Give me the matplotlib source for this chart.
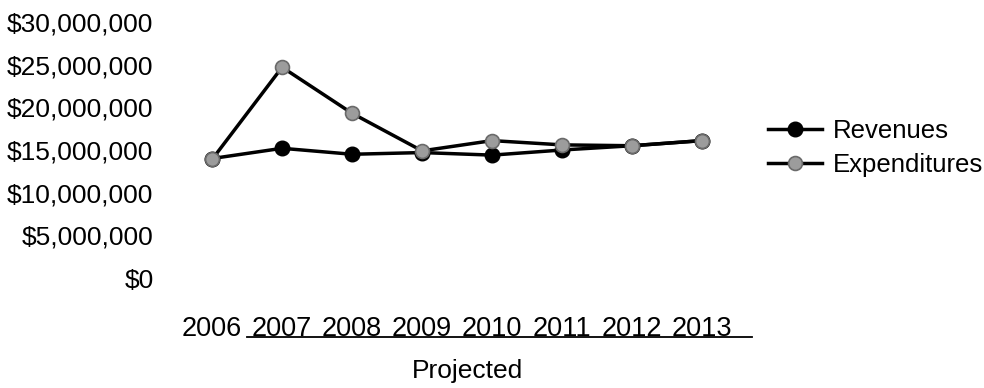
import matplotlib
matplotlib.use("Agg")
import matplotlib.pyplot as plt
import matplotlib.transforms as mtransforms
from matplotlib import ticker

plt.rcParams['font.family'] = ['Liberation Sans', 'DejaVu Sans']

years = ['2006', '2007', '2008', '2009', '2010', '2011', '2012', '2013']
revenues = [14.0, 15.2, 14.5, 14.7, 14.4, 15.0, 15.5, 16.1]      # $ millions
expenditures = [13.9, 24.7, 19.3, 14.9, 16.1, 15.6, 15.5, 16.1]  # $ millions
y_ticks = [0, 5, 10, 15, 20, 25, 30]

fig = plt.figure(figsize=(9.84, 3.88), dpi=100)
ax = fig.add_axes([0.18, 0.2835, 0.569, 0.6598])

x = list(range(len(years)))
rev_m = [v * 1e6 for v in revenues]
exp_m = [v * 1e6 for v in expenditures]

ax.plot(x, rev_m, color='black', lw=2.5, marker='o', ms=10.5,
        mfc='black', mec='black', label='Revenues', zorder=3)
ax.plot(x, exp_m, color='black', lw=2.5, marker='o', ms=10,
        mfc='#9c9c9c', mec='#6a6a6a', mew=1.2, label='Expenditures', zorder=4)

ax.set_xlim(-0.5, len(years) - 0.5)
ax.set_ylim(0, 30e6)
ax.set_yticks([t * 1e6 for t in y_ticks])
ax.yaxis.set_major_formatter(ticker.FuncFormatter(lambda v, p: '${:,.0f}'.format(v)))
ax.set_xticks(x)
ax.set_xticklabels(years)

for s in ax.spines.values():
    s.set_visible(False)
ax.tick_params(axis='y', length=0, pad=17, labelsize=19)
ax.tick_params(axis='x', length=0, pad=27, labelsize=19.5)

# underline under the projected years
trans = mtransforms.blended_transform_factory(ax.transData, ax.transAxes)
ax.plot([0.5, 7.72], [-0.231, -0.231], color='black', lw=1.3,
        transform=trans, clip_on=False)
fig.text(468 / 984, 1 - 371 / 388, 'Projected', ha='center', va='center', fontsize=19)

ax.legend(loc='upper left', bbox_to_anchor=(768 / 984, 1 - 119 / 388),
          bbox_transform=fig.transFigure, frameon=False, fontsize=18.5,
          borderpad=0, borderaxespad=0, handlelength=2.1, handletextpad=0.42,
          labelspacing=0.4)

fig.savefig('out.png', dpi=100)
